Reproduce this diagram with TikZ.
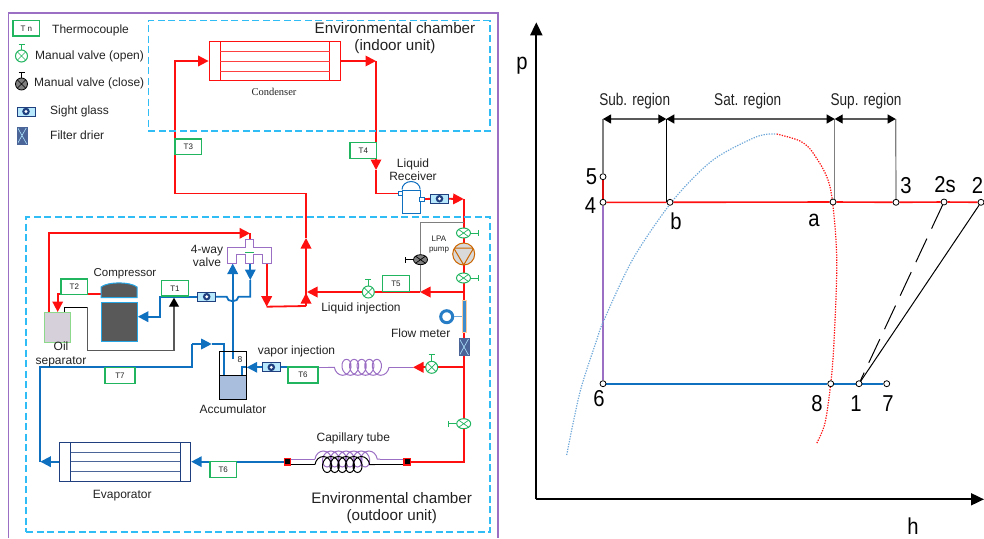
\documentclass[tikz,border=0pt]{standalone}
\usepackage{fontspec}
\setmainfont{Liberation Sans}
\newfontfamily\condfont{Liberation Serif}
\newfontfamily\pvfont[FakeStretch=0.88]{Liberation Sans}
\newfontfamily\regfont[FakeStretch=0.8]{Liberation Sans}
\usepackage{xcolor}
\definecolor{cRed}{HTML}{FF1010}
\definecolor{cBlue}{HTML}{1070C0}
\definecolor{cTc}{HTML}{22B560}
\definecolor{cFrame}{HTML}{9B6FC4}
\definecolor{cChamber}{HTML}{30BDF5}
\definecolor{cNavy}{HTML}{1F3F7F}
\definecolor{cInk}{HTML}{222222}
\definecolor{cGray}{HTML}{7F7F7F}
\definecolor{cDark}{HTML}{595959}
\definecolor{cLiquid}{HTML}{A9BEDC}
\usetikzlibrary{positioning,arrows.meta,shapes.geometric,decorations.pathmorphing,backgrounds}
\tikzset{
  node-text/.style={font=\fontsize{12}{13.5}\selectfont,align=center,inner sep=0pt,text=cInk},
  node-title/.style={font=\fontsize{15.2}{17}\selectfont,align=center,inner sep=0pt,text=cInk},
  node-pv/.style={font=\pvfont\fontsize{23}{25}\selectfont,inner sep=0pt},
  node-region/.style={font=\regfont\fontsize{17}{19}\selectfont,inner sep=0pt,text=cInk},
  node-tc/.style={draw=cTc,line width=1.3pt,fill=white,minimum width=26.5pt,minimum height=15.5pt,
    inner sep=0pt,font=\fontsize{8}{9}\selectfont,text=cInk},
  node-chamber/.style={draw=cChamber,line width=1.3pt,dash pattern=on 7pt off 3.5pt},
  node-valve/.style={circle,draw=cTc,line width=1pt,fill=white,minimum size=12pt,inner sep=0pt,
    path picture={\draw[cTc,line width=.7pt] (path picture bounding box.north west) -- (path picture bounding box.south east)
      (path picture bounding box.north east) -- (path picture bounding box.south west);}},
  node-valve-shut/.style={circle,draw=black,line width=.8pt,fill=cGray,minimum size=12pt,inner sep=0pt,
    path picture={\draw[black,line width=.7pt] (path picture bounding box.north west) -- (path picture bounding box.south east)
      (path picture bounding box.north east) -- (path picture bounding box.south west);}},
  node-sight/.style={draw=cNavy,line width=1pt,fill=cChamber!35,minimum width=18pt,minimum height=9pt,inner sep=0pt,
    path picture={\fill[cNavy] (path picture bounding box.center) circle[radius=3.8pt];
      \fill[white] (path picture bounding box.center) circle[radius=1.6pt];}},
  node-filter/.style={draw=cNavy!80,fill=cNavy!80,minimum width=9.5pt,minimum height=17pt,inner sep=0pt,
    path picture={\draw[cChamber!40,line width=.6pt] (path picture bounding box.north west) -- (path picture bounding box.south east)
      (path picture bounding box.north east) -- (path picture bounding box.south west);}},
  node-port/.style={draw=cBlue,line width=.7pt,fill=white,minimum width=4.5pt,minimum height=4pt,inner sep=0pt},
  node-pt/.style={circle,draw=black,line width=.8pt,fill=white,minimum size=6pt,inner sep=0pt},
  node-joint/.style={draw=cRed,fill=black,line width=1.2pt,minimum size=6.5pt,inner sep=0pt},
  pipe-hot/.style={draw=cRed,line width=1.8pt},
  pipe-cold/.style={draw=cBlue,line width=1.8pt},
  pipe-tip/.style={-{Triangle[length=10.5pt,width=10.5pt]}},
  pipe-coil/.style={draw=cFrame,line width=1pt},
  wire/.style={draw=cDark,line width=1.1pt},
  stem-open/.style={draw=cTc,line width=1pt,-{Bar[width=6pt,length=1pt]}},
  stem-shut/.style={draw=black,line width=1pt,-{Bar[width=6pt,length=1pt]}},
  coil-tube/.style={decorate,decoration={coil,aspect=.8,segment length=7.6pt,amplitude=8pt}},
  arrow-region/.style={{Triangle[length=8pt,width=9pt,color=black]}-{Triangle[length=8pt,width=9pt,color=black]},draw=cDark,line width=1.1pt},
  arrow-axis/.style={-{Triangle[length=13pt,width=12pt]},draw=black,line width=1.8pt},
  curve-sat/.style={line width=1.2pt,dash pattern=on 1.3pt off 1.3pt},
}
\begin{document}
\begin{tikzpicture}[x=1pt,y=-1pt]
  \useasboundingbox (0,0) rectangle (984,538);
  % frame and the two chambers
  \draw[cFrame,line width=1.2pt] (8.5,538) -- (8.5,13) -- (498,13) -- (498,538);
  \node[node-chamber,minimum width=341.5pt,minimum height=110.5pt] (indoor)  at (319.2,75.8) {};
  \node[node-chamber,minimum width=464pt,minimum height=315pt]     (outdoor) at (258,374.5) {};
  \node[node-title] (indoor-text)  at (395,38.5) {Environmental chamber\\(indoor unit)};
  \node[node-title] (outdoor-text) at (391.7,508.5) {Environmental chamber\\(outdoor unit)};

  % legend
  \node[node-tc] (key-tc) at (26.3,28.3) {T n};
  \node[node-text,anchor=west] (key-tc-text) at (52,30) {Thermocouple};
  \node[node-valve] (key-open) at (21.5,56) {};
  \node[node-text,anchor=west] (key-open-text) at (35,56) {Manual valve (open)};
  \node[node-valve-shut] (key-shut) at (21.5,84) {};
  \node[node-text,anchor=west] (key-shut-text) at (34,83.5) {Manual valve (close)};
  \node[node-sight] (key-sight) at (26,111.5) {};
  \node[node-text,anchor=west] (key-sight-text) at (50,111) {Sight glass};
  \node[node-filter] (key-filter) at (22,135.5) {};
  \node[node-text,anchor=west] (key-filter-text) at (50,135) {Filter drier};
  \draw[stem-open] (key-open.north) -- ++(0,-6);
  \draw[stem-shut] (key-shut.north) -- ++(0,-6);

  % heat exchangers
  \node[draw=cRed,line width=1pt,minimum width=131pt,minimum height=39.4pt,inner sep=0pt] (condenser) at (274.6,61) {};
  \draw[cRed,line width=1pt] (220,41.3) -- (220,80.7) (329.5,41.3) -- (329.5,80.7);
  \foreach \y in {51,61,71} \draw[cRed!80,line width=1pt] (220,\y) -- (329.5,\y);
  \node[font=\condfont\fontsize{10.5}{12}\selectfont,inner sep=0pt,text=cInk] (condenser-text) at (274,92) {Condenser};
  \node[draw=cNavy,line width=1pt,minimum width=131.4pt,minimum height=39.3pt,inner sep=0pt] (evaporator) at (125,461.7) {};
  \draw[cNavy,line width=1pt] (70.7,442) -- (70.7,481.3) (180,442) -- (180,481.3);
  \foreach \y in {452,461.7,471.7} \draw[cNavy!80,line width=1pt] (70.7,\y) -- (180,\y);
  \node[node-text] (evaporator-text) at (122.3,496) {Evaporator};

  % thermocouples
  \node[node-tc] (t3) at (188.3,146.8) {T3};
  \node[node-tc] (t4) at (363.3,150.5) {T4};
  \node[node-tc] (t5) at (396,283.5) {T5};
  \node[node-tc] (t1) at (175,288.3) {T1};
  \node[node-tc] (t2) at (74.3,286.7) {T2};
  \node[node-tc,minimum width=30pt,minimum height=16pt] (t7) at (120,375.3) {T7};
  \node[node-tc,minimum width=30pt,minimum height=16pt] (t6-vap) at (303,375) {T6};
  \node[node-tc] (t6) at (223.2,469.5) {T6};

  % valves, glasses, pump, meter
  \node[node-valve,ellipse,minimum width=14pt,minimum height=10pt] (v-top) at (463.5,233) {};
  \node[circle,draw=orange!80!black,line width=1pt,fill=gray!30,minimum size=22pt,inner sep=0pt,
    path picture={\draw[orange!80!black,line width=1pt,shift={(path picture bounding box.center)}] (-10,-6) -- (10,-6) -- (0,11) -- cycle;}] (pump) at (463.7,254) {};
  \node[node-valve,ellipse,minimum width=14pt,minimum height=10pt] (v-low) at (463.5,278) {};
  \node[node-valve-shut,ellipse,minimum width=14pt,minimum height=10pt] (v-bypass) at (420.5,259.7) {};
  \node[node-valve] (v-liq) at (368.3,292) {};
  \node[node-valve] (v-vap) at (431.7,367.3) {};
  \node[node-valve,ellipse,minimum width=14pt,minimum height=10pt] (v-cap) at (463.7,423.7) {};
  \draw[stem-open] (v-top.east) -- ++(8,0);
  \draw[stem-open] (v-low.east) -- ++(8,0);
  \draw[stem-shut] (v-bypass.west) -- ++(-8,0);
  \draw[stem-open] (v-liq.north) -- ++(0,-7);
  \draw[stem-open] (v-vap.north) -- ++(0,-7);
  \draw[stem-open] (v-cap.west) -- ++(-8,0);
  \node[node-sight] (sg-recv) at (439.5,198.7) {};
  \node[node-sight] (sg-comp) at (206.7,296.7) {};
  \node[node-sight] (sg-vap) at (271.3,367.3) {};
  \node[node-filter] (filter) at (464,347) {};
  \node[draw=orange!40,fill=cBlue!80,line width=.7pt,minimum width=3.5pt,minimum height=32pt,inner sep=0pt] (meter) at (464.3,316.7) {};
  \node[circle,draw=cBlue!90!white,line width=3pt,fill=white,minimum size=12pt,inner sep=0pt] (meter-dial) at (446.7,316.7) {};
  \draw[cBlue!60,line width=1pt] (meter-dial) -- (meter);
  \node[font=\fontsize{8}{10}\selectfont,align=center,inner sep=0pt,text=cInk] (pump-text) at (439,245) {LPA\\pump};

  % receiver
  \node[draw=cBlue,line width=1pt,fill=white,minimum width=18.2pt,minimum height=23pt,inner sep=0pt] (receiver) at (411.6,201.5) {};
  \draw[cBlue,line width=1pt] (receiver.north west) arc[start angle=180,end angle=360,x radius=9.1,y radius=8];
  \node[node-port] (port-in) at (400.2,193.5) {};
  \node[node-port] (port-out) at (422,199) {};
  \node[node-text] (receiver-text) at (413,169.5) {Liquid\\Receiver};

  % compressor, oil separator, accumulator, 4-way valve
  \node[draw=cChamber!70!cBlue,line width=1pt,fill=cDark,minimum width=36pt,minimum height=39.7pt,inner sep=0pt] (compressor) at (119,321.9) {};
  \draw[draw=cChamber!70!cBlue,line width=1pt,fill=cDark] (101,297.7) -- (101,287) .. controls (108,281.5) and (130,281.5) .. (137,287) -- (137,297.7) -- cycle;
  \node[node-text,font=\fontsize{11.5}{13}\selectfont] (compressor-text) at (125,273.3) {Compressor};
  \node[draw=green!50!gray!60,line width=1pt,fill=cFrame!35!gray!35,minimum width=26pt,minimum height=29.7pt,inner sep=0pt] (separator) at (57,327.2) {};
  \node[node-text] (separator-text) at (61,354.5) {Oil\\separator};
  \node[fill=cLiquid,minimum width=27.4pt,minimum height=24pt,inner sep=0pt] (liquid) at (233,387) {};
  \draw[black,line width=.7pt] (219.3,351.7) rectangle (246.7,399);
  \draw[black,line width=1pt] (219.3,375) -- (219.3,399) -- (246.7,399) -- (246.7,375) -- cycle;
  \node[font=\fontsize{8.5}{10}\selectfont,inner sep=0pt,text=cInk] (acc-8) at (240,360) {8};
  \node[node-text] (accumulator-text) at (233,409) {Accumulator};
  \draw[cFrame,line width=1pt,fill=white] (227.7,247.7) -- (245,247.7) -- (245,239.3) -- (253.7,239.3) -- (253.7,247.7)
    -- (271.7,247.7) -- (271.7,263) -- (262.3,263) -- (262.3,254.3) -- (253.7,254.3) -- (253.7,263) -- (245,263)
    -- (245,254.3) -- (236.3,254.3) -- (236.3,263) -- (227.7,263) -- cycle;
  \draw[cTc,line width=1pt] (245,252.7) -- (253.7,252.7);
  \node[node-text] (valve-text) at (207,256) {4-way\\valve};

  % capillary ends and remaining labels
  \node[node-joint] (cap-l) at (287.5,461.7) {};
  \node[node-joint] (cap-r) at (407.3,461.7) {};
  \node[node-text] (cap-text) at (353.3,438.3) {Capillary tube};
  \node[node-text] (liq-text) at (361,308) {Liquid injection};
  \node[node-text] (vap-text) at (296.5,351) {vapor injection};
  \node[node-text] (meter-text) at (420.7,333) {Flow meter};

  % junctions
  \coordinate (j-riser) at (306,306);
  \coordinate (j-roof)  at (306,193.5);
  \coordinate (j-left)  at (175,193.5);
  \coordinate (j-in)    at (175,61);
  \coordinate (j-out)   at (376,61);
  \coordinate (j-drop)  at (376,170);
  \coordinate (j-base)  at (376,193.5);
  \coordinate (j-top)   at (463.7,199);
  \coordinate (j-liq)   at (463.7,292);
  \coordinate (j-byp)   at (420,292);
  \coordinate (j-byp2)  at (420,222);
  \coordinate (j-byp3)  at (463.7,222);
  \coordinate (j-mix)   at (307,292);
  \coordinate (j-vap)   at (463.7,367.3);
  \coordinate (j-corner) at (463.7,461.7);
  \coordinate (j-head)  at (413,367.3);

  \begin{scope}[on background layer]
    % hot side
    \draw[pipe-hot,pipe-tip] (j-riser) -- (306,293);
    \draw[pipe-hot,pipe-tip] (j-riser) -- (306,238);
    \draw[pipe-hot,pipe-tip] (306,238) -- (j-roof) -- (j-left) -- (j-in) -- (condenser.west);
    \draw[pipe-hot,pipe-tip] (condenser.east) -- (j-out);
    \draw[pipe-hot,pipe-tip] (j-out) -- (j-drop);
    \draw[pipe-hot] (j-drop) -- (j-base) -- (port-in);
    \draw[pipe-hot] (port-out) -- (sg-recv);
    \draw[pipe-hot,pipe-tip] (sg-recv) -- (j-top);
    \draw[pipe-hot] (j-top) -- (j-corner) -- (cap-r);
    \draw[pipe-hot,pipe-tip] (j-liq) -- (j-byp);
    \draw[pipe-hot,pipe-tip] (j-byp) -- (j-mix);
    \draw[pipe-hot,pipe-tip] (j-vap) -- (j-head);
    \draw[cGray,line width=1pt] (j-byp3) -- (j-byp2) -- (j-byp);
    \coordinate (j-4w) at (266.7,263);
    \coordinate (j-4wb) at (266.7,306.7);
    \draw[pipe-hot,pipe-tip] (j-4w) -- (j-4wb);
    \draw[pipe-hot] (j-4wb) -- (j-riser);
    \coordinate (j-oil) at (49,312);
    \coordinate (j-oil2) at (49,233.3);
    \coordinate (j-oil3) at (250,233.3);
    \coordinate (j-oil4) at (250,240);
    \draw[pipe-hot,pipe-tip] (j-oil) -- (j-oil2) -- (j-oil3);
    \draw[pipe-hot] (j-oil3) -- (j-oil4);
    \coordinate (j-t2) at (101,294.3);
    \coordinate (j-t2b) at (57.7,294.3);
    \coordinate (j-t2c) at (57.7,312);
    \draw[pipe-hot,pipe-tip] (j-t2) -- (j-t2b) -- (j-t2c);
    % cold side
    \coordinate (j-coil-r) at (389,367.3);
    \coordinate (j-coil-l) at (328,367.3);
    \coordinate (j-coil-e) at (318,367.3);
    \draw[pipe-coil] (j-head) -- (j-coil-r);
    \draw[pipe-coil,coil-tube] (j-coil-r) -- (j-coil-l);
    \draw[pipe-coil] (j-coil-l) -- (j-coil-e);
    \draw[pipe-cold] (j-coil-e) -- (sg-vap);
    \coordinate (j-acc) at (246.7,367.3);
    \coordinate (j-acc2) at (241.7,367.3);
    \coordinate (j-acc3) at (241.7,390.7);
    \draw[pipe-cold,pipe-tip] (sg-vap) -- (j-acc);
    \draw[pipe-cold] (j-acc) -- (j-acc2) -- (j-acc3);
    \coordinate (j-up) at (232.7,359);
    \coordinate (j-up2) at (232.7,263.5);
    \draw[pipe-cold,pipe-tip] (j-up) -- (j-up2);
    \coordinate (j-dn) at (250.3,263);
    \coordinate (j-dn2) at (250.3,280);
    \coordinate (j-dn3) at (250.3,296.7);
    \coordinate (j-hump-r) at (238.5,296.7);
    \coordinate (j-hump-l) at (226.7,296.7);
    \coordinate (j-bend) at (160,296.7);
    \coordinate (j-bend2) at (160,316.7);
    \coordinate (j-comp) at (137.8,316.7);
    \draw[pipe-cold,pipe-tip] (j-dn) -- (j-dn2);
    \draw[pipe-cold] (j-dn2) -- (j-dn3) -- (j-hump-r) .. controls +(0,6) and +(0,6) .. (j-hump-l) -- (sg-comp);
    \draw[pipe-cold,pipe-tip] (sg-comp) -- (j-bend) -- (j-bend2) -- (j-comp);
    \coordinate (j-ev) at (40.3,461.7);
    \coordinate (j-ev2) at (40.3,367.3);
    \coordinate (j-ev3) at (192.3,367.3);
    \coordinate (j-ev4) at (192.3,344);
    \coordinate (j-ev5) at (211.7,344);
    \coordinate (j-ev6) at (224.3,344);
    \coordinate (j-ev7) at (224.3,387);
    \draw[pipe-cold,pipe-tip] (evaporator.west) -- (j-ev);
    \draw[pipe-cold] (j-ev) -- (j-ev2) -- (j-ev3) -- (j-ev4);
    \draw[pipe-cold,pipe-tip] (j-ev4) -- (j-ev5);
    \draw[pipe-cold] (j-ev5) -- (j-ev6) -- (j-ev7);
    \draw[pipe-cold,pipe-tip] (cap-l) -- (evaporator.east);
    % capillary
    \coordinate (j-cp1) at (315,459);
    \coordinate (j-cp2) at (380,459);
    \coordinate (j-cb1) at (315,464.5);
    \coordinate (j-cb2) at (375,464.5);
    \draw[pipe-coil] (cap-l.east |- j-cp1) -- (j-cp1);
    \draw[pipe-coil] (cap-r.west |- j-cp2) -- (j-cp2);
    \draw[pipe-coil,coil-tube] (j-cp1) -- (j-cp2);
    \draw[black,line width=1pt] (cap-l.east |- j-cb1) -- (j-cb1);
    \draw[black,line width=1pt] (cap-r.west |- j-cb2) -- (j-cb2);
    \draw[black,line width=1pt,coil-tube] (j-cb1) -- (j-cb2);
    % oil return
    \coordinate (j-ret) at (64.3,315);
    \coordinate (j-ret2) at (64.3,307.3);
    \coordinate (j-ret3) at (87.7,307.3);
    \coordinate (j-ret4) at (87.7,350.7);
    \coordinate (j-ret5) at (174,350.7);
    \coordinate (j-ret6) at (174,297.7);
    \draw[black,line width=1pt] (j-ret) -- (j-ret2) -- (j-ret3);
    \draw[wire] (j-ret3) -- (j-ret4) -- (j-ret5);
    \draw[wire,-{Triangle[length=9pt,width=10pt,color=black]}] (j-ret5) -- (j-ret6);
  \end{scope}

  % p-h chart
  \coordinate (origin) at (536.3,499.3);
  \coordinate (p-end) at (536.3,22.3);
  \coordinate (h-end) at (984,499.3);
  \draw[arrow-axis] (origin) -- (p-end);
  \draw[arrow-axis] (origin) -- (h-end);
  \node[node-pv] (p-text) at (522,66) {p};
  \node[node-pv] (h-text) at (913,526) {h};
  \foreach \pt/\x/\y/\lx/\ly/\txt in {
    s5/603/176.7/591.5/177/5, s4/603/202.3/590.5/206/4, sb/670/202.3/676/221/b, sa/833/202/814/220/a,
    s3/896/202.3/906/186/3, ss/944/202/945/185/2s, s2/981/202.3/977.5/185/2, s6/603/383.7/599/399/6,
    s8/830.7/383.7/817/404/8, s1/859/383.7/856/404/1, s7/886.7/383.7/888/404/7}{
    \node[node-pt] (\pt) at (\x,\y) {};
    \node[node-pv] (\pt-text) at (\lx,\ly) {\txt};
  }
  \coordinate (r1) at (603,119);
  \coordinate (r2) at (666.3,119);
  \coordinate (r3) at (834.7,119);
  \coordinate (r4) at (895.7,119);
  \begin{scope}[on background layer]
    \draw[cRed,line width=1.6pt] (s4) -- (sb) -- (sa) -- (s3) -- (ss) -- (s2);
    \draw[cRed!85!black,line width=1.6pt] (s5) -- (s4);
    \draw[cFrame,line width=1.4pt] (s4) -- (s6);
    \draw[cBlue,line width=1.6pt] (s6) -- (s8) -- (s1) -- (s7);
    \draw[black,line width=1pt] (s1) -- (s2);
    \draw[black,line width=1pt,dash pattern=on 26pt off 11pt] (ss) -- (s1);
    \draw[cGray,line width=1.2pt] (r1) -- (s5);
    \draw[black,line width=.8pt] (r2) -- (r2 |- s4);
    \draw[cGray,line width=1.2pt] (r3) -- (r3 |- s4);
    \draw[cGray,line width=1.2pt] (r4) -- (s3);
    \draw[cBlue!60!white,curve-sat] plot[smooth] coordinates {(566.7,455) (580,392) (596.7,340) (604,320) (633.3,258.3) (673.3,200) (713,160) (756.7,136.7) (776.7,134)};
    \draw[cRed,curve-sat] plot[smooth] coordinates {(776.7,134) (800,141) (813.3,153.3) (830,186.7) (836.7,256.7) (834,341.7) (830.7,383.7) (825,423) (816.7,443.3)};
  \end{scope}
  \draw[arrow-region] (r1) -- (r2);
  \draw[arrow-region] (r2) -- (r3);
  \draw[arrow-region] (r3) -- (r4);
  \node[node-region] (sub-text) at (634.7,101) {Sub. region};
  \node[node-region] (sat-text) at (747.7,101) {Sat. region};
  \node[node-region] (sup-text) at (866,101) {Sup. region};
\end{tikzpicture}
\end{document}
